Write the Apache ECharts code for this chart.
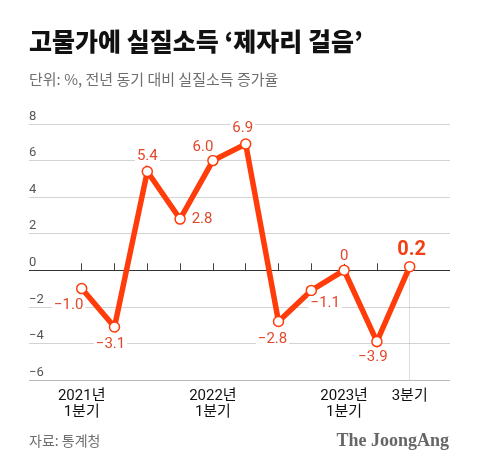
<!DOCTYPE html>
<html><head><meta charset="utf-8">
<script src="https://cdn.jsdelivr.net/npm/echarts@6/dist/echarts.min.js"></script>
<style>html,body{margin:0;padding:0;background:#fff}#c{width:480px;height:470px}</style>
</head><body><div id="c"></div>
<script>
// ---- data ----
const categories = ['2021년 1분기','2021년 2분기','2021년 3분기','2021년 4분기','2022년 1분기','2022년 2분기','2022년 3분기','2022년 4분기','2023년 1분기','2023년 2분기','2023년 3분기'];
const tickLabels = ['2021년\n1분기','','','','2022년\n1분기','','','','2023년\n1분기','','3분기'];
const values = [-1.0, -3.1, 5.4, 2.8, 6.0, 6.9, -2.8, -1.1, 0, -3.9, 0.2];
const valueLabels = ['−1.0','−3.1','5.4','2.8','6.0','6.9','−2.8','−1.1','0','−3.9','0.2'];
const yTicks = [-6, -4, -2, 0, 2, 4, 6, 8];
const yTickLabels = ['−6','−4','−2','0','2','4','6','8'];

// ---- styling (positions of value labels relative to their points) ----
const labelOffsets = [[-13,17],[-4,17],[0,-15],[22,0],[-10,-13],[-3,-16],[-6,18],[14,13],[0,-14],[-4,16],[2,-17]];
const RED = '#ff3c0a';
const LABEL_RED = '#e0482b';

const chart = echarts.init(document.getElementById('c'));
const yMin = yTicks[0], yMax = yTicks[yTicks.length-1];
const lastIdx = values.length - 1;

const seriesData = values.map((v, i) => {
  const isLast = i === lastIdx;
  return {
    value: v,
    label: {
      show: true,
      position: 'inside',
      offset: labelOffsets[i],
      formatter: valueLabels[i],
      color: isLast ? '#f24015' : LABEL_RED,
      fontSize: isLast ? 20 : 15,
      fontWeight: isLast ? 'bold' : 'normal',
      fontFamily: 'Roboto, "Noto Sans", sans-serif',
      backgroundColor: '#fff',
      padding: [0, 2]
    }
  };
});

const splitColors = yTicks.map(t => t === 0 ? '#333' : (t === yMin ? '#bbb' : '#d3d3d3'));

chart.setOption({
  animation: false,
  backgroundColor: '#fff',
  title: [
    { text: '고물가에 실질소득 ‘제자리 걸음’', left: 29, top: 29, padding: 0,
      textStyle: { fontFamily: '"Noto Sans CJK KR"', fontWeight: 900, fontSize: 25, color: '#111' } },
    { text: '단위: %, 전년 동기 대비 실질소득 증가율', left: 29, top: 72, padding: 0,
      textStyle: { fontFamily: '"Noto Sans CJK KR"', fontWeight: 'normal', fontSize: 15, color: '#6f6f6f' } },
    { text: '자료: 통계청', left: 29, top: 434, padding: 0,
      textStyle: { fontFamily: '"Noto Sans CJK KR"', fontWeight: 'normal', fontSize: 14, color: '#6f6f6f' } },
    { text: 'The JoongAng', right: 31, top: 432, padding: 0,
      textStyle: { fontFamily: '"Liberation Serif", serif', fontWeight: 'bold', fontSize: 18, color: '#666' } }
  ],
  grid: [
    { left: 29, right: 30, top: 124, bottom: 90 },
    { left: 81.7, right: 70.3, top: 124, bottom: 90 }
  ],
  xAxis: [
    { gridIndex: 0, type: 'value', min: 0, max: 1, show: false },
    { gridIndex: 1, type: 'category', data: categories, boundaryGap: false,
      axisLine: { show: false },
      axisTick: { show: true, inside: true, length: 7, interval: 0, lineStyle: { color: '#444' } },
      axisLabel: { interval: 0, margin: 8, color: '#111', fontSize: 15, lineHeight: 16,
        fontFamily: 'Roboto, "Noto Sans CJK KR", sans-serif',
        formatter: (v, i) => tickLabels[i] },
      splitLine: { show: false } }
  ],
  yAxis: [
    { gridIndex: 0, type: 'value', min: yMin, max: yMax, interval: 2,
      axisLine: { show: false }, axisTick: { show: false },
      axisLabel: { inside: true, margin: 0, verticalAlign: 'bottom', align: 'left', padding: [0,0,1,0],
        color: '#555', fontSize: 13, fontFamily: 'Roboto, "Noto Sans", sans-serif',
        formatter: v => yTickLabels[yTicks.indexOf(v)] },
      splitLine: { show: true, lineStyle: { color: splitColors, width: 1 } } },
    { gridIndex: 1, type: 'value', min: yMin, max: yMax, interval: 2, show: false, splitLine: { show: false } }
  ],
  series: [
    {
      type: 'line', xAxisIndex: 1, yAxisIndex: 1,
      data: seriesData,
      lineStyle: { color: RED, width: 5.5, join: 'miter' },
      itemStyle: { color: '#fff', borderColor: RED, borderWidth: 1.5 },
      symbol: 'circle', symbolSize: 10, showAllSymbol: true,
      z: 3,
      markLine: {
        silent: true, symbol: 'none', label: { show: false },
        lineStyle: { color: '#bbb', type: 'dotted', width: 1 },
        z: 1,
        data: [[ { coord: [lastIdx, values[lastIdx]] }, { coord: [lastIdx, yMin] } ]]
      }
    }
  ]
});
</script>
</body></html>
